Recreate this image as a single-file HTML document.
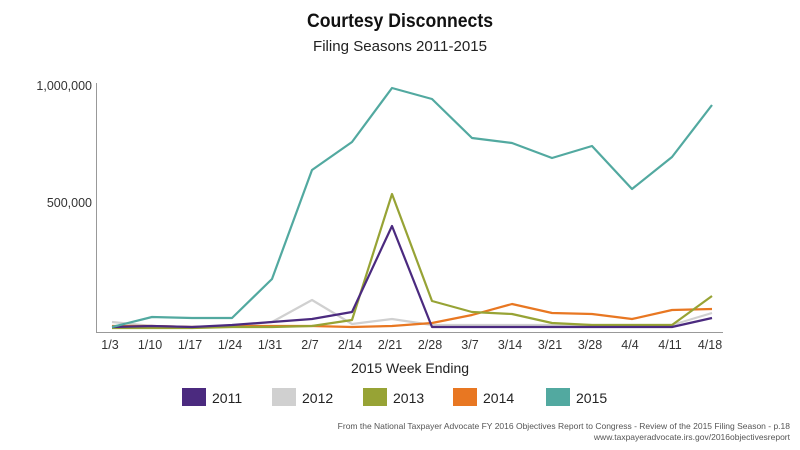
<!DOCTYPE html><html><head><style>body{margin:0;background:#fff}svg{display:block}</style></head><body>
<svg width="800" height="450" xmlns="http://www.w3.org/2000/svg" font-family="Liberation Sans, sans-serif">
<text x="307" y="27" textLength="186" lengthAdjust="spacingAndGlyphs" font-size="19" font-weight="bold" fill="#111">Courtesy Disconnects</text>
<text x="313" y="51" textLength="174" lengthAdjust="spacingAndGlyphs" font-size="15" fill="#222">Filing Seasons 2011-2015</text>
<g font-size="12.5" fill="#333" text-anchor="end"><text x="92" y="90">1,000,000</text><text x="92" y="207">500,000</text></g>
<path d="M96.5 83V332.5H723" stroke="#999" fill="none"/>
<g font-size="12.5" fill="#333" text-anchor="middle">
<text x="110" y="349">1/3</text><text x="150" y="349">1/10</text><text x="190" y="349">1/17</text><text x="230" y="349">1/24</text><text x="270" y="349">1/31</text><text x="310" y="349">2/7</text><text x="350" y="349">2/14</text><text x="390" y="349">2/21</text><text x="430" y="349">2/28</text><text x="470" y="349">3/7</text><text x="510" y="349">3/14</text><text x="550" y="349">3/21</text><text x="590" y="349">3/28</text><text x="630" y="349">4/4</text><text x="670" y="349">4/11</text><text x="710" y="349">4/18</text></g>
<text x="410" y="373" text-anchor="middle" font-size="14" fill="#222">2015 Week Ending</text>
<g fill="none" stroke-width="2.2" stroke-linejoin="round">
<polyline stroke="#d0d0d0" points="112,322 152,326 192,327 232,326 272,322 312,300 352,324 392,319 432,325 472,325 512,325 552,325 592,325 632,325 672,325 712,313"/>
<polyline stroke="#e87722" points="112,326 152,326 192,327 232,326 272,326 312,326 352,327 392,326 432,323 472,315 512,304 552,313 592,314 632,319 672,310 712,309"/>
<polyline stroke="#97a335" points="112,328 152,328 192,328 232,327 272,327 312,326 352,320 392,194 432,301 472,312 512,314 552,323 592,325 632,325 672,325 712,296"/>
<polyline stroke="#4b2a7f" points="112,327 152,326 192,327 232,325 272,322 312,319 352,312 392,226 432,327 472,327 512,327 552,327 592,327 632,327 672,327 712,318"/>
<polyline stroke="#52a9a0" points="112,327 152,317 192,318 232,318 272,279 312,170 352,142 392,88 432,99 472,138 512,143 552,158 592,146 632,189 672,157 712,105"/>
</g>
<g font-size="14" fill="#222">
<rect x="182" y="388" width="24" height="18" fill="#4b2a7f"/><text x="212" y="403">2011</text>
<rect x="272" y="388" width="24" height="18" fill="#d0d0d0"/><text x="302" y="403">2012</text>
<rect x="363" y="388" width="24" height="18" fill="#97a335"/><text x="393" y="403">2013</text>
<rect x="453" y="388" width="24" height="18" fill="#e87722"/><text x="483" y="403">2014</text>
<rect x="546" y="388" width="24" height="18" fill="#52a9a0"/><text x="576" y="403">2015</text></g>
<g font-size="8.5" fill="#555" text-anchor="end"><text x="790" y="429">From the National Taxpayer Advocate FY 2016 Objectives Report to Congress -  Review of the  2015 Filing Season - p.18</text><text x="790" y="440">www.taxpayeradvocate.irs.gov/2016objectivesreport</text></g>
</svg></body></html>
